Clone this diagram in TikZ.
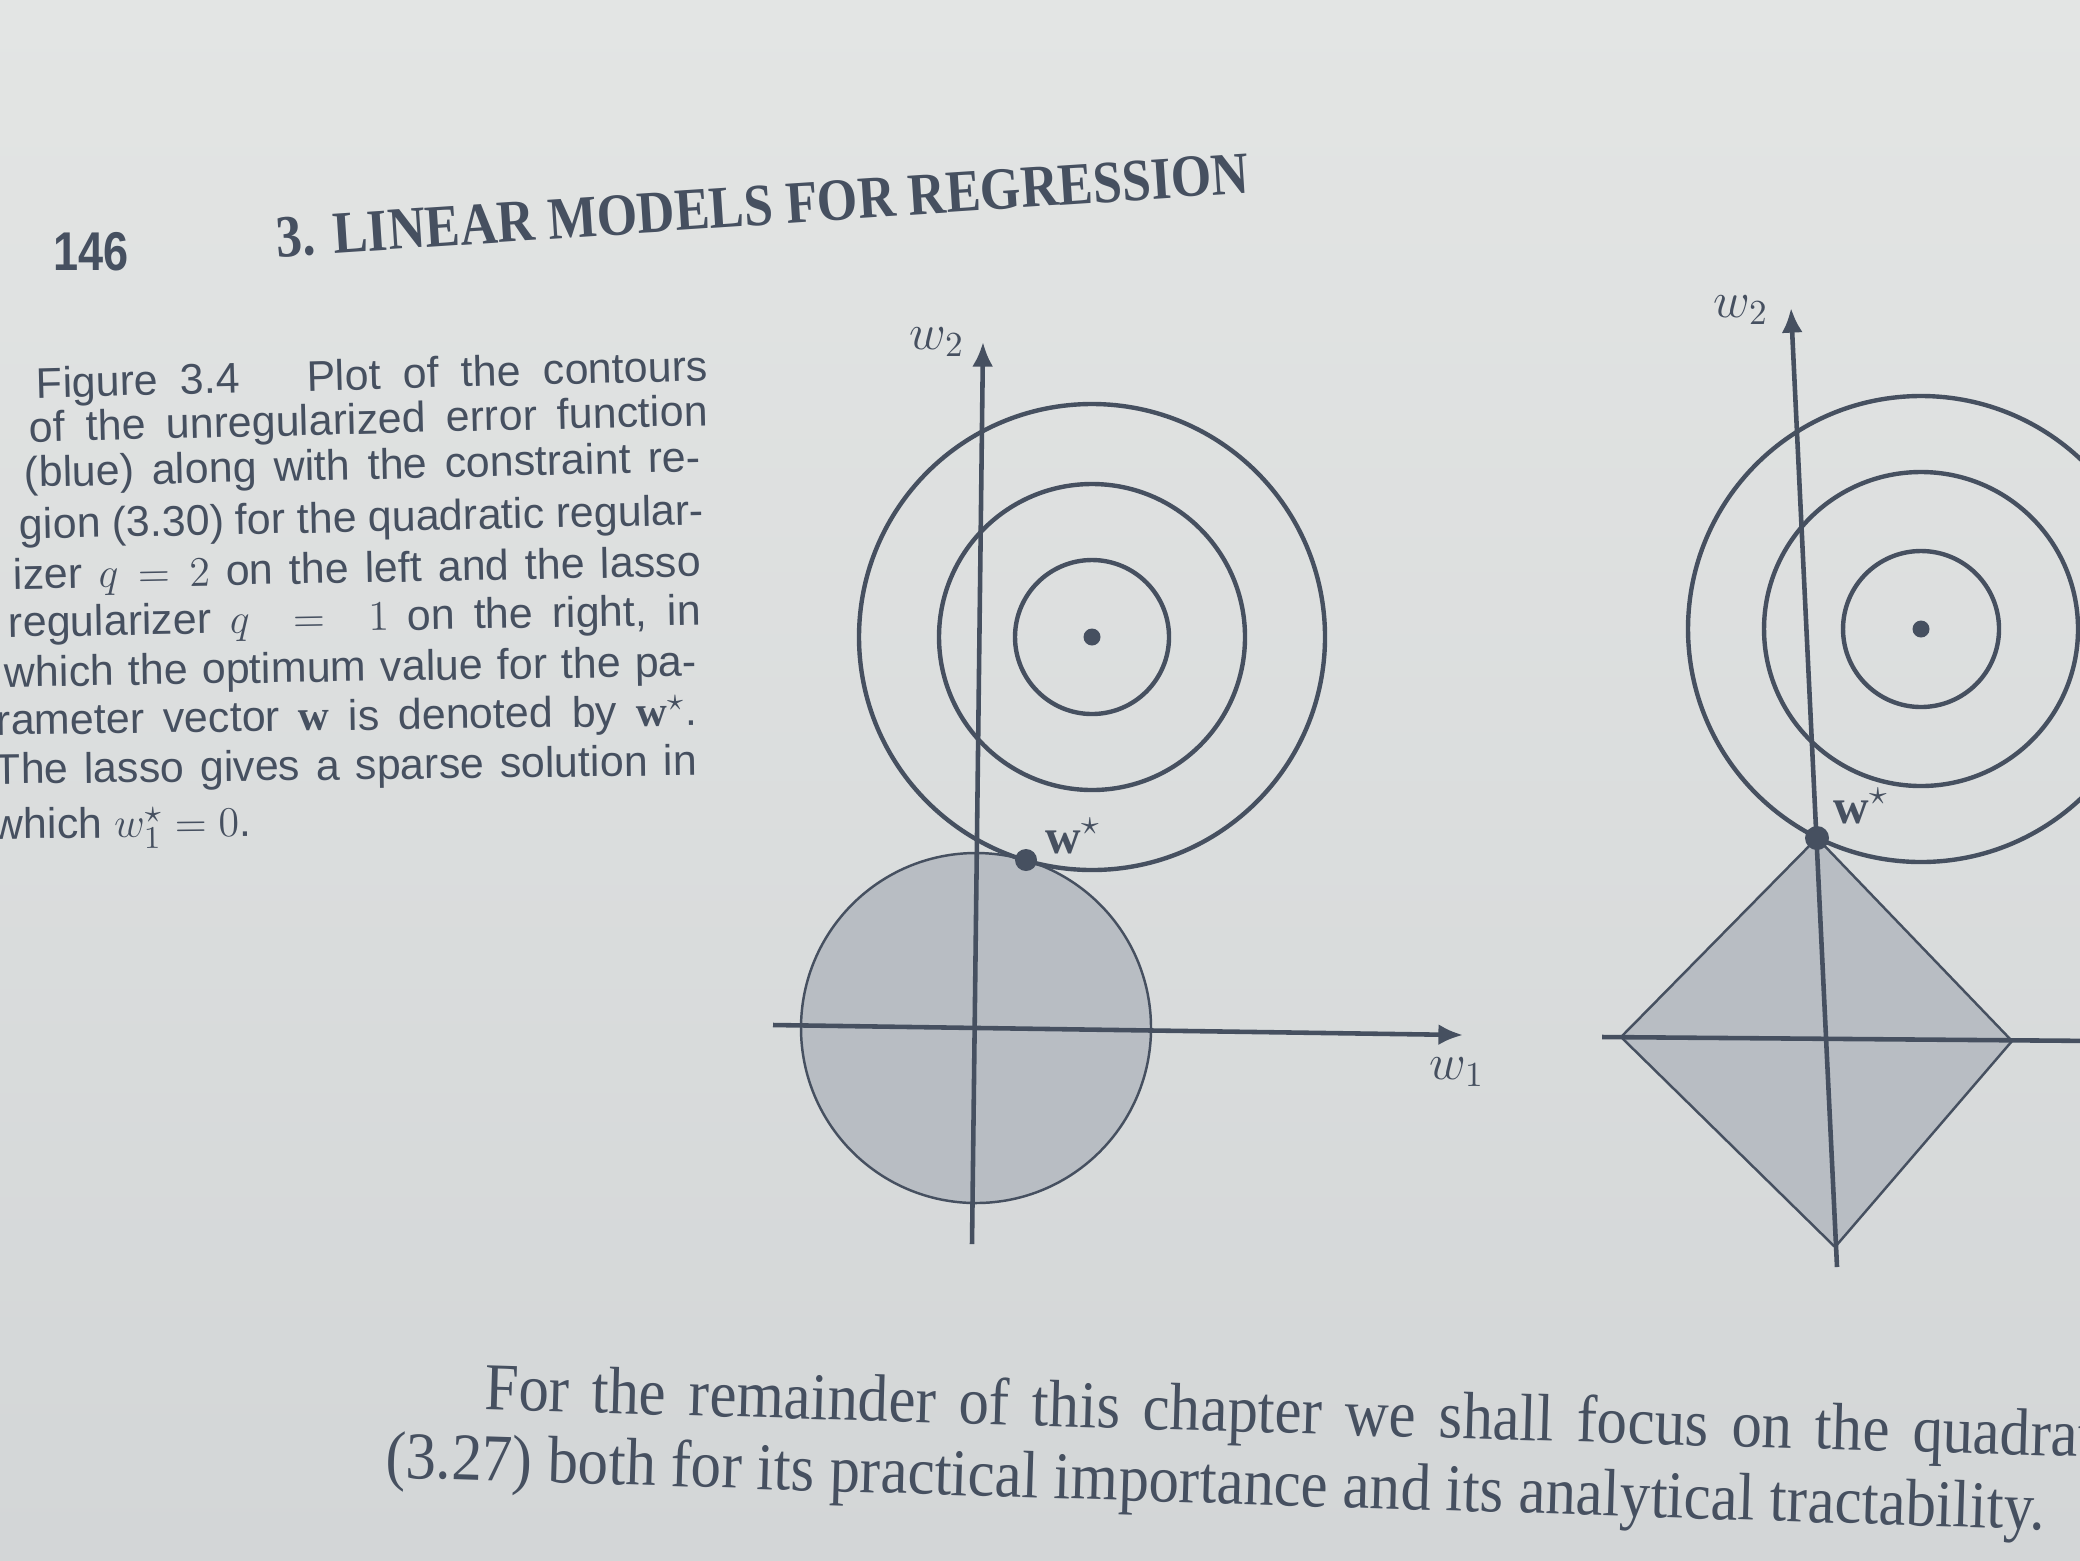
\documentclass[tikz,border=0pt]{standalone}
\usepackage{fontspec}
\setmainfont{Liberation Serif}
\setsansfont{Liberation Sans}
\usetikzlibrary{arrows.meta}
\definecolor{ink}{RGB}{70,80,96}
\definecolor{paperT}{RGB}{227,229,228}
\definecolor{paperB}{RGB}{211,214,215}
\definecolor{shadefill}{RGB}{184,189,195}
\tikzset{
  axis/.style={draw=ink, line width=1.3pt, -{Latex[length=7pt,width=6pt]}},
  axisplain/.style={draw=ink, line width=1.3pt},
  contour/.style={draw=ink, line width=1.25pt},
  region/.style={draw=ink, line width=0.7pt, fill=shadefill},
  dotn/.style={circle, fill=ink, draw=none, inner sep=0pt},
  mlabel/.style={text=ink, inner sep=0pt, font=\fontsize{14}{14}\selectfont},
  capline/.style={anchor=west, inner sep=0pt, text=ink, font=\sffamily\fontsize{12.2}{12}\selectfont},
  bodyline/.style={anchor=west, inner sep=0pt, text=ink, font=\fontsize{17.3}{17}\selectfont},
}
\begin{document}
\begin{tikzpicture}[x=0.01cm,y=0.01cm]
\useasboundingbox (0,0) rectangle (2080,-1560);
\clip (0,0) rectangle (2080,-1560);
\shade[top color=paperT, bottom color=paperB] (0,0) rectangle (2080,-1560);

% header
\node[anchor=west, inner sep=0pt, text=ink, font=\sffamily\bfseries\fontsize{13.5}{14}\selectfont] (pagenum) at (53,-252) {\scalebox{0.95}[1.15]{146}};
\node[anchor=west, inner sep=0pt, text=ink, rotate=3.8, font=\bfseries\fontsize{14.8}{15}\selectfont] (title) at (276,-238) {\scalebox{1}[1.15]{3. LINEAR MODELS FOR REGRESSION}};

% caption
\node[capline, rotate=1.5] (c1) at (36,-387) {\makebox[6.71cm][s]{Figure 3.4\ \ \ Plot of the contours}};
\node[capline, rotate=1.4] (c2) at (29,-431) {\makebox[6.78cm][s]{of the unregularized error function}};
\node[capline, rotate=1.3] (c3) at (24,-476) {\makebox[6.76cm][s]{(blue) along with the constraint re-}};
\node[capline, rotate=1.2] (c4) at (19,-528) {\makebox[6.84cm][s]{gion (3.30) for the quadratic regular-}};
\node[capline, rotate=1.1] (c5) at (13,-578) {\makebox[6.87cm][s]{izer $q=2$ on the left and the lasso}};
\node[capline, rotate=1.0] (c6) at (8,-626) {\makebox[6.92cm][s]{regularizer $q\ =\ 1$ on the right, in}};
\node[capline, rotate=0.9] (c7) at (4,-676) {\makebox[6.92cm][s]{which the optimum value for the pa-}};
\node[capline, rotate=0.8] (c8) at (-4,-724) {\makebox[7.0cm][s]{rameter vector $\mathbf{w}$ is denoted by $\mathbf{w}^\star$.}};
\node[capline, rotate=0.7] (c9) at (-6,-773) {\makebox[7.02cm][s]{The lasso gives a sparse solution in}};
\node[capline, rotate=0.6] (c10) at (-8,-829) {which $w_1^\star=0$.};

% ---------- left figure (q = 2) ----------
\coordinate (L-o) at (976,-1028);
\coordinate (L-c) at (1092,-637);
\coordinate (L-w2top) at (983,-342);
\coordinate (L-w2bot) at (972,-1244);
\coordinate (L-w1left) at (773,-1025);
\coordinate (L-w1right) at (1463,-1035);
\fill[shadefill] (L-o) circle[radius=175];
\draw[axis] (L-w2bot) -- (L-w2top);
\draw[axis] (L-w1left) -- (L-w1right);
\draw[region, fill=none] (L-o) circle[radius=175];
\draw[contour] (L-c) circle[radius=233];
\draw[contour] (L-c) circle[radius=153];
\draw[contour] (L-c) circle[radius=77];
\node[dotn, minimum size=0.17cm] (L-min) at (L-c) {};
\node[dotn, minimum size=0.22cm] (L-ws) at (1026,-860) {};
\node[mlabel] (L-w2lab) at (937,-342) {$w_2$};
\node[mlabel] (L-w1lab) at (1457,-1072) {$w_1$};
\node[mlabel] (L-wslab) at (1073,-836) {$\mathbf{w}^\star$};

% ---------- right figure (q = 1) ----------
\coordinate (R-c) at (1921,-629);
\coordinate (R-w2top) at (1791,-308);
\coordinate (R-w2bot) at (1837,-1267);
\coordinate (R-w1left) at (1602,-1037);
\coordinate (R-w1right) at (2100,-1041);
\coordinate (R-top) at (1817,-838);
\coordinate (R-left) at (1621,-1037);
\coordinate (R-right) at (2012,-1041);
\coordinate (R-bot) at (1835,-1247);
\draw[region] (R-top) -- (R-right) -- (R-bot) -- (R-left) -- cycle;
\draw[axis] (R-w2bot) -- (R-w2top);
\draw[axisplain] (R-w1left) -- (R-w1right);
\draw[contour] (R-c) circle[radius=233];
\draw[contour] (R-c) circle[radius=157];
\draw[contour] (R-c) circle[radius=78];
\node[dotn, minimum size=0.17cm] (R-min) at (R-c) {};
\node[dotn, minimum size=0.24cm] (R-ws) at (R-top) {};
\node[mlabel] (R-w2lab) at (1741,-310) {$w_2$};
\node[mlabel] (R-wslab) at (1861,-806) {$\mathbf{w}^\star$};

% body text
\node[bodyline, rotate=-1.7] (b1) at (484,-1393) {\scalebox{1}[1.1]{\makebox[16.1cm][s]{For the remainder of this chapter we shall focus on the quadrat}}};
\node[bodyline, rotate=-1.8] (b2) at (385,-1461) {\scalebox{1}[1.1]{(3.27) both for its practical importance and its analytical tractability.}};
\end{tikzpicture}
\end{document}
